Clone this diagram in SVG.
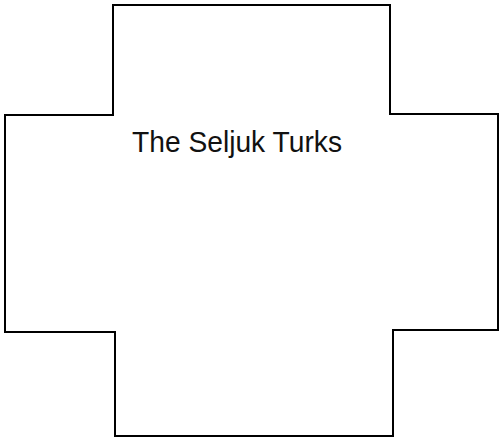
<svg xmlns="http://www.w3.org/2000/svg" width="500" height="438" viewBox="0 0 500 438">
<style>
.shape{fill:#fff;stroke:#000;stroke-width:2;stroke-linejoin:miter}
.label{font-family:"Liberation Sans",Arial,sans-serif;font-size:30px;fill:#111}
</style>
<rect width="500" height="438" fill="#fff"/>
<g id="cross">
<path class="shape" d="M113,5 H390 V114 H498 V330 H393 V436 H115 V332 H5 V115 H113 Z"/>
<text class="label" x="132" y="152" textLength="210" lengthAdjust="spacingAndGlyphs">The Seljuk Turks</text>
</g>
</svg>
